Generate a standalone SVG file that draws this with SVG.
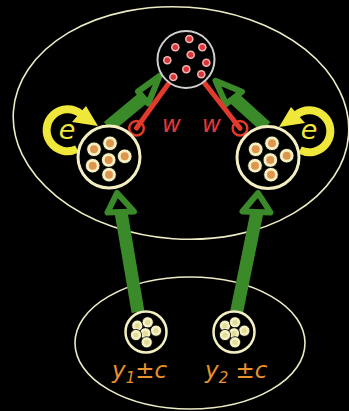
<svg xmlns="http://www.w3.org/2000/svg" width="349" height="411" viewBox="0 0 349 411">
<style>
.ell{fill:none;stroke:#ecebc4;stroke-width:1.6}
.shaft{stroke:#3b8a2a;stroke-width:13;stroke-linecap:butt}
.head{fill:#000;stroke:#3b8a2a;stroke-width:6;stroke-linejoin:round}
.red{stroke:#e23a2c;stroke-width:5;stroke-linecap:round}
.rc{fill:none;stroke:#e23a2c;stroke-width:2.5}
.loop{fill:none;stroke:#efe83a;stroke-width:8}
.lh{fill:#efe83a}
.mid{fill:#000;stroke:#f3efc2;stroke-width:3}
.top{fill:#000;stroke:#cfcfcf;stroke-width:2}
.bot{fill:#000;stroke:#f3efc2;stroke-width:2.5}
.lbl{font-family:"DejaVu Sans","Liberation Sans",sans-serif;font-style:oblique}
</style>
<defs>
<g id="od"><circle r="7.3" fill="#f5f1c3" stroke="#000" stroke-width="0.8"/><circle r="4" fill="#e0954f"/></g>
<g id="rd"><circle r="4.3" fill="#f2b3ad"/><circle r="2.7" fill="#d9353a"/></g>
<g id="yd"><circle r="5.6" fill="#f6f2c6" stroke="#000" stroke-width="0.8"/><circle r="2.6" fill="#e3dc98"/></g>
</defs>
<rect width="349" height="411" fill="#000"/>
<ellipse class="ell" cx="181" cy="123" rx="168" ry="116" transform="rotate(4 181 123)"/>
<ellipse class="ell" cx="190" cy="343" rx="115" ry="66"/>
<g id="connectors">
<line class="shaft" x1="138" y1="312" x2="121" y2="212"/>
<polygon class="head" points="117,193 107.5,212.5 134,211.5"/>
<line class="shaft" x1="236" y1="315" x2="257" y2="212"/>
<polygon class="head" points="258,193 242.5,211.5 270.5,212.5"/>
<line class="shaft" x1="108" y1="127" x2="143" y2="98"/>
<polygon class="head" points="138,91.5 159.5,76 148.3,103.5"/>
<line class="shaft" x1="266" y1="127" x2="235" y2="99"/>
<polygon class="head" points="215.5,80.8 242,91.7 226,104"/>
<line class="red" x1="174" y1="76" x2="136.5" y2="128"/>
<circle class="rc" cx="136.5" cy="128.3" r="7.3"/>
<line class="red" x1="199" y1="76" x2="240" y2="128.3"/>
<circle class="rc" cx="240" cy="128.3" r="7.3"/>
<path class="loop" d="M77,149 A21,21 0 1 1 81,114"/>
<polygon class="lh" points="86,106 98,126 72,122"/>
<path class="loop" d="M300,150 A21,21 0 1 0 296,115"/>
<polygon class="lh" points="291,107 279,127 305,123"/>
</g>
<g id="n_top">
<circle class="top" cx="186" cy="59.5" r="28.5"/>
<use href="#rd" x="189.3" y="39"/><use href="#rd" x="175.3" y="47.3"/><use href="#rd" x="202.3" y="47.3"/>
<use href="#rd" x="190.7" y="54.7"/><use href="#rd" x="167.3" y="60.3"/><use href="#rd" x="206.3" y="62.7"/>
<use href="#rd" x="186.3" y="69.3"/><use href="#rd" x="173.3" y="77"/><use href="#rd" x="201.3" y="74.3"/>
</g>
<g id="n_left">
<circle class="mid" cx="109" cy="157" r="31"/>
<use href="#od" x="94" y="149.3"/><use href="#od" x="110" y="143.3"/><use href="#od" x="124.7" y="156.3"/>
<use href="#od" x="108.7" y="160"/><use href="#od" x="92.7" y="165.7"/><use href="#od" x="109" y="174.7"/>
</g>
<g id="n_right">
<circle class="mid" cx="268" cy="157.5" r="31"/>
<use href="#od" x="255.7" y="149.3"/><use href="#od" x="272" y="143.3"/><use href="#od" x="286.7" y="155.7"/>
<use href="#od" x="270.3" y="160"/><use href="#od" x="255" y="165.7"/><use href="#od" x="271" y="174.7"/>
</g>
<g id="n_y1">
<circle class="bot" cx="146" cy="332" r="20.5"/>
<use href="#yd" x="137.3" y="325.7"/><use href="#yd" x="147.7" y="322.3"/><use href="#yd" x="156" y="330.7"/>
<use href="#yd" x="145.3" y="333.3"/><use href="#yd" x="136" y="335"/><use href="#yd" x="146.7" y="342.3"/>
</g>
<g id="n_y2">
<circle class="bot" cx="234" cy="332" r="20.5"/>
<use href="#yd" x="225" y="325.7"/><use href="#yd" x="235" y="322.3"/><use href="#yd" x="244.3" y="330.7"/>
<use href="#yd" x="234" y="333.3"/><use href="#yd" x="225" y="335"/><use href="#yd" x="235" y="342.3"/>
</g>
<g id="labels" class="lbl">
<text x="67" y="138.5" font-size="27" fill="#efe83a" text-anchor="middle">e</text>
<text x="309" y="138.5" font-size="27" fill="#efe83a" text-anchor="middle">e</text>
<text x="171.5" y="132" font-size="23" fill="#e23a3c" text-anchor="middle">w</text>
<text x="211.5" y="132" font-size="23" fill="#e23a3c" text-anchor="middle">w</text>
<text x="112" y="378" font-size="23" fill="#e8922e">y<tspan font-size="15" dy="5">1</tspan><tspan dy="-5">±c</tspan></text>
<text x="205" y="378" font-size="23" fill="#e8922e">y<tspan font-size="15" dy="5">2</tspan><tspan dy="-5"> ±c</tspan></text>
</g>
</svg>
